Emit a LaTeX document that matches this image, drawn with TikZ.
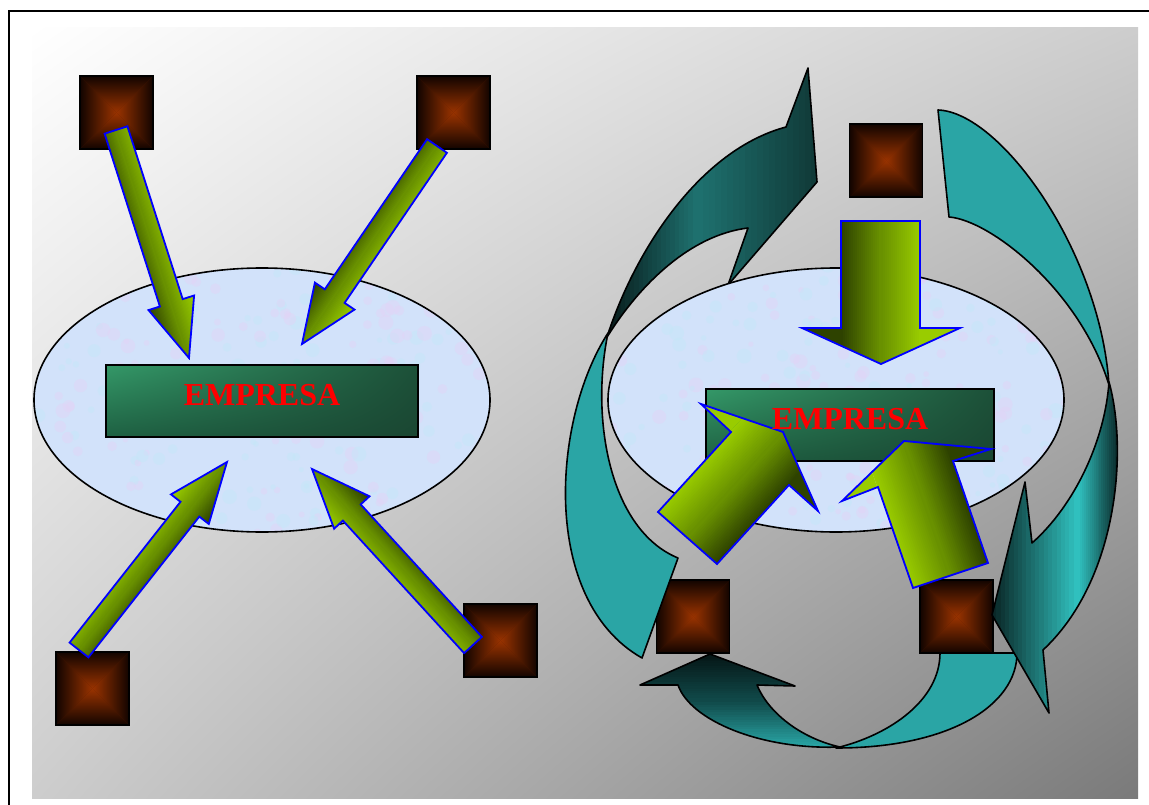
\documentclass[tikz,border=0pt]{standalone}
\usepackage{fontspec}
\setmainfont{Liberation Serif}
\usetikzlibrary{shapes.geometric,shadings}
\definecolor{agBright}{RGB}{153,204,0}
\definecolor{agDark}{RGB}{46,66,0}
\definecolor{agMid}{RGB}{105,145,0}
\definecolor{rust}{RGB}{153,51,0}
\definecolor{sqEdge}{RGB}{18,4,0}
\definecolor{tealFlat}{RGB}{42,165,165}
\definecolor{elFill}{RGB}{210,226,250}
\definecolor{elPink}{RGB}{226,212,246}
\definecolor{elCyan}{RGB}{196,232,248}
\definecolor{bgUR}{RGB}{205,205,205}
\definecolor{bgLR}{RGB}{122,122,122}
\definecolor{rectUL}{RGB}{52,152,104}
\definecolor{rectLL}{RGB}{30,96,66}
\definecolor{rectUR}{RGB}{28,80,56}
\definecolor{rectLR}{RGB}{26,70,50}
\definecolor{tA}{RGB}{8,28,28}
\definecolor{tM}{RGB}{30,112,110}
\definecolor{tB}{RGB}{16,58,56}
\definecolor{rA}{RGB}{10,40,40}
\definecolor{rM}{RGB}{48,192,190}
\definecolor{rB}{RGB}{12,48,48}
\definecolor{bA}{RGB}{5,22,22}
\definecolor{bM}{RGB}{16,72,72}
\definecolor{bB}{RGB}{42,168,168}
\tikzset{
 ell/.style={ellipse, fill=elFill, minimum width=456pt, minimum height=264pt, inner sep=0pt},
 firm/.style={rectangle, draw=black, line width=1.6pt, minimum height=72pt, inner sep=0pt,
   upper left=rectUL, upper right=rectUR, lower left=rectLL, lower right=rectLR},
 empresa/.style={text=red, font=\fontsize{32}{36}\selectfont\bfseries, inner sep=0pt},
 sqframe/.style={rectangle, draw=black, line width=1.2pt, minimum size=73pt, inner sep=0pt},
 greenline/.style={draw=blue, line width=1.8pt},
 tealline/.style={draw=black, line width=1.6pt, line join=round},
}
% #1 path, #2 centre, #3 angle, #4 left extent, #5 right extent, #6 A, #7 M, #8 B, #9 outline style
\newcommand\gradfill[9]{%
 \begin{scope}
  \clip #1;
  \begin{scope}[shift={#2}, rotate=#3]
   \fill[#6] (-3000,-3000) rectangle (-#4,3000);
   \fill[#8] (#5,-3000) rectangle (3000,3000);
   \foreach \k in {0,...,19}{%
     \pgfmathsetmacro\xa{-#4+#4*\k/20}%
     \pgfmathsetmacro\xb{-#4+#4*(\k+1)/20+0.6}%
     \pgfmathsetmacro\xc{#5*\k/20}%
     \pgfmathsetmacro\xd{#5*(\k+1)/20+0.6}%
     \pgfmathtruncatemacro\pc{100*\k/19}%
     \fill[#7!\pc!#6] (\xa,-3000) rectangle (\xb,3000);
     \fill[#8!\pc!#7] (\xc,-3000) rectangle (\xd,3000);
   }
  \end{scope}
 \end{scope}
 \draw[#9] #1;}
\newcommand\sqbox[3]{%
 \fill[rust!45!sqEdge] (#2-36.5,#3-36.5) rectangle (#2+36.5,#3+36.5);
 \shade[top color=sqEdge, bottom color=rust] (#2-36.5,#3-36.5) -- (#2+36.5,#3-36.5) -- (#2,#3) -- cycle;
 \shade[top color=rust, bottom color=sqEdge] (#2-36.5,#3+36.5) -- (#2+36.5,#3+36.5) -- (#2,#3) -- cycle;
 \shade[left color=sqEdge, right color=rust] (#2-36.5,#3-36.5) -- (#2-36.5,#3+36.5) -- (#2,#3) -- cycle;
 \shade[left color=rust, right color=sqEdge] (#2+36.5,#3-36.5) -- (#2+36.5,#3+36.5) -- (#2,#3) -- cycle;
 \node[sqframe] (#1) at (#2,#3) {};}
\newcommand\blobs[1]{%
 \begin{scope}
 \clip (#1,400) ellipse [x radius=228pt, y radius=132pt];
 \foreach \i in {1,...,260}{%
  \pgfmathsetmacro\bx{#1+rand*230}%
  \pgfmathsetmacro\by{400+rand*135}%
  \pgfmathsetmacro\br{2.5+5*rnd}%
  \pgfmathtruncatemacro\bc{mod(\i,2)}%
  \ifnum\bc=0 \fill[elPink,opacity=0.45] (\bx,\by) circle[radius=\br pt];\else\fill[elCyan,opacity=0.45] (\bx,\by) circle[radius=\br pt];\fi
 }
 \end{scope}
 \draw[line width=1.6pt] (#1,400) ellipse [x radius=228pt, y radius=132pt];}
\begin{document}
\begin{tikzpicture}[x=1pt,y=-1pt]
\pgfmathsetseed{42}
\useasboundingbox (0,0) rectangle (1149,805);
\fill[white] (0,0) rectangle (1149,805);
\draw[line width=1.6pt] (9,11) rectangle (1153,809);
\shade[upper left=white, upper right=bgUR, lower left=bgUR, lower right=bgLR] (32,28) rectangle (1138,798);

% ---------------- left group
\node[ell] (ellL) at (262,400) {};
\blobs{262}
\node[firm, minimum width=312pt] (firmL) at (262,401) {};
\sqbox{sqA}{116.5}{112.5}
\sqbox{sqB}{453.5}{112.5}
\sqbox{sqC}{92.5}{688.5}
\sqbox{sqD}{500.5}{640.5}
\gradfill{(104.6,133.7) -- (127.4,126.3) -- (182.7,299.1) -- (194.1,295.5) -- (189,358) -- (148.5,310.1) -- (159.9,306.5) -- cycle}{(152,244)}{17.75}{24}{24}{agDark}{agMid}{agBright}{greenline}
\gradfill{(427.1,139.2) -- (446.9,152.8) -- (344.6,302.9) -- (354.5,309.6) -- (302,344) -- (314.9,282.6) -- (324.8,289.3) -- cycle}{(369.5,245)}{-34.3}{24}{24}{agDark}{agMid}{agBright}{greenline}
\gradfill{(69.6,642.6) -- (88.4,657.4) -- (199.3,516.6) -- (208.8,524) -- (227,462) -- (171,494.4) -- (180.5,501.8) -- cycle}{(153,556)}{-38.2}{24}{24}{agBright}{agMid}{agDark}{greenline}
\gradfill{(464.1,653.1) -- (481.9,636.9) -- (360.7,504.4) -- (369.5,496.3) -- (312,469) -- (334.1,528.7) -- (342.9,520.6) -- cycle}{(392.5,557)}{42.5}{24}{24}{agBright}{agMid}{agDark}{greenline}
\node[empresa] (txtL) at (262,395) {EMPRESA};

% ---------------- right group
\gradfill{(607,337) .. controls (635,250) and (700,150) .. (786,127) -- (808,68) -- (817,182) -- (728,285) -- (748,228) .. controls (690,235) and (640,285) .. (609,334) -- cycle}{(697,200)}{0}{90}{120}{tA}{tM}{tB}{tealline}
\node[ell] (ellR) at (836,400) {};
\blobs{836}
\node[firm, minimum width=288pt] (firmR) at (850,425) {};
\sqbox{sqE}{886}{160.5}
\sqbox{sqF}{693}{616.5}
\sqbox{sqG}{956.5}{616.5}
% curved teal arrows
\gradfill{(640,685) -- (710,654) -- (795,686) -- (757,685) .. controls (768,712) and (800,738) .. (840,747) .. controls (760,750) and (690,720) .. (678,685) -- cycle}{(720,700)}{-90}{46}{49}{bA}{bM}{bB}{tealline}
\filldraw[tealline, fill=tealFlat] (940,653) -- (1017,653) .. controls (1017,705) and (950,748) .. (836,748) .. controls (890,735) and (940,700) .. (940,653) -- cycle;
\filldraw[tealline, fill=tealFlat] (642,658) -- (678,558) .. controls (610,530) and (590,420) .. (608,333) .. controls (552,420) and (540,600) .. (642,658) -- cycle;
\filldraw[tealline, fill=tealFlat] (938,110) .. controls (1000,112) and (1100,250) .. (1109,385) .. controls (1080,290) and (990,220) .. (949,217) -- cycle;
\gradfill{(1109,382) .. controls (1128,450) and (1118,580) .. (1043,650) -- (1049,713) -- (992,615) -- (1025,482) -- (1032,543) .. controls (1075,505) and (1105,440) .. (1109,382) -- cycle}{(1078,500)}{0}{86}{39}{rA}{rM}{rB}{tealline}
% green block arrows
\gradfill{(841,221) -- (920,221) -- (920,328) -- (960,328) -- (881,364) -- (802,328) -- (841,328) -- cycle}{(881,290)}{0}{40}{40}{agDark}{agMid}{agBright}{greenline}
\gradfill{(701,404) -- (783,432) -- (818,511) -- (789,485) -- (717,564) -- (658,512) -- (731,432) -- cycle}{(760,458)}{-42.4}{40}{40}{agBright}{agMid}{agDark}{greenline}
\gradfill{(904,441) -- (991,449) -- (953,461) -- (988,563) -- (913,588) -- (878,487) -- (842,501) -- cycle}{(915,474)}{18.9}{40}{40}{agBright}{agMid}{agDark}{greenline}
\node[empresa] (txtR) at (850,419) {EMPRESA};
\end{tikzpicture}
\end{document}
